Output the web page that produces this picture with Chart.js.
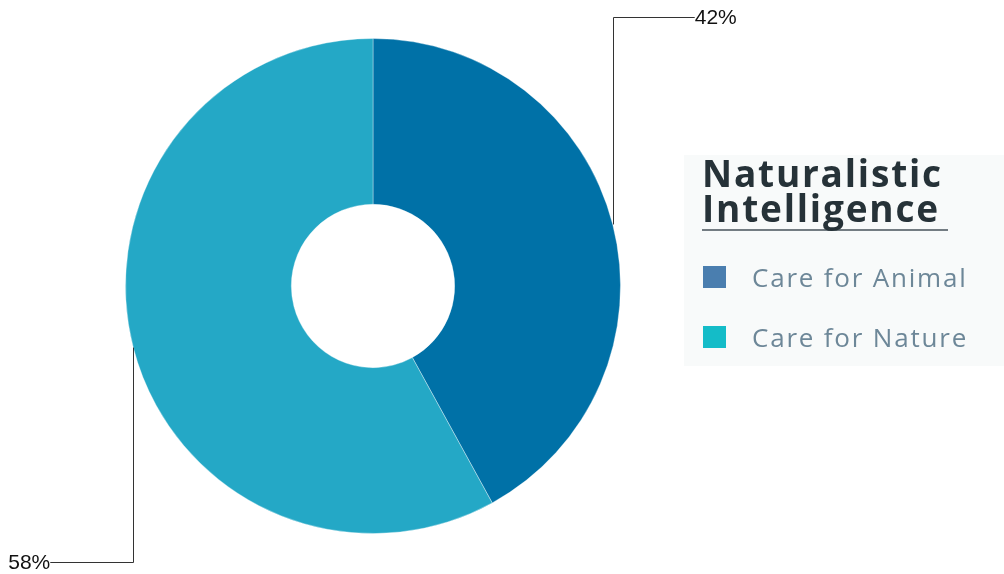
<!DOCTYPE html>
<html>
<head>
<meta charset="utf-8">
<script src="https://cdn.jsdelivr.net/npm/chart.js@4/dist/chart.umd.min.js"></script>
<style>
  html, body { margin: 0; padding: 0; background: #fff; }
  #wrap { position: relative; width: 1004px; height: 574px; }
  #legendBox {
    position: absolute; left: 684px; top: 155px; width: 320px; height: 211px;
    background: #f8fafa; box-sizing: border-box;
    font-family: "Open Sans", sans-serif;
  }
  #legendBox h2 {
    margin: 0; position: absolute; left: 18px; top: 0px; white-space: nowrap;
    font-size: 37px; line-height: 35px; font-weight: 700; color: #263238;
    border-bottom: 2px solid #737c82; padding-bottom: 4px; padding-right: 5px;
    letter-spacing: 1.8px;
  }
  .item { position: absolute; left: 19px; height: 24px; display: flex; align-items: center; }
  .item .sw { width: 23px; height: 22px; margin-right: 26px; }
  .item span { font-size: 26px; color: #6d8798; letter-spacing: 1.8px; }
</style>
</head>
<body>
<div id="wrap">
  <canvas id="chart" width="1004" height="574"></canvas>
  <div id="legendBox">
    <h2>Naturalistic<br>Intelligence</h2>
    <div class="item" style="top:110px"><div class="sw" style="background:#4a7eaf"></div><span>Care for Animal</span></div>
    <div class="item" style="top:170px"><div class="sw" style="background:#14bcc8"></div><span>Care for Nature</span></div>
  </div>
</div>
<script>
const categories = ["Care for Animal", "Care for Nature"];
const shares = [42, 58];
const sliceColors = ["#0071a7", "#24a8c6"];

// leader lines from each slice's outer midpoint, bent out to the percentage label
const leaderLabels = {
  id: "leaderLabels",
  afterDatasetsDraw(chart) {
    const ctx = chart.ctx;
    const meta = chart.getDatasetMeta(0);
    ctx.save();
    ctx.strokeStyle = "#333";
    ctx.lineWidth = 1;
    ctx.fillStyle = "#111";
    ctx.font = "21px 'Liberation Sans', Arial, sans-serif";
    ctx.textBaseline = "middle";
    meta.data.forEach((arc, i) => {
      const p = arc.getProps(["x", "y", "startAngle", "endAngle", "outerRadius"], true);
      const mid = (p.startAngle + p.endAngle) / 2;
      const x0 = p.x + p.outerRadius * Math.cos(mid);
      const y0 = p.y + p.outerRadius * Math.sin(mid);
      const right = x0 > p.x;
      const y1 = right ? chart.chartArea.top - 21 : chart.chartArea.bottom + 28;
      const x1 = right ? x0 + 82 : x0 - 83;
      ctx.beginPath();
      ctx.moveTo(Math.round(x0) + 0.5, y0);
      ctx.lineTo(Math.round(x0) + 0.5, y1 + 0.5);
      ctx.lineTo(x1, y1 + 0.5);
      ctx.stroke();
      ctx.textAlign = right ? "left" : "right";
      ctx.fillText(shares[i] + "%", x1, y1 + 1);
    });
    ctx.restore();
  }
};

new Chart(document.getElementById("chart"), {
  type: "doughnut",
  data: {
    labels: categories,
    datasets: [{
      data: shares,
      backgroundColor: sliceColors,
      borderColor: "rgba(255,255,255,0.35)",
      borderWidth: 1
    }]
  },
  options: {
    responsive: false,
    animation: false,
    cutout: "33%",
    layout: { padding: { left: 125, right: 383, top: 38, bottom: 40 } },
    plugins: { legend: { display: false }, tooltip: { enabled: false } }
  },
  plugins: [leaderLabels]
});
</script>
</body>
</html>
